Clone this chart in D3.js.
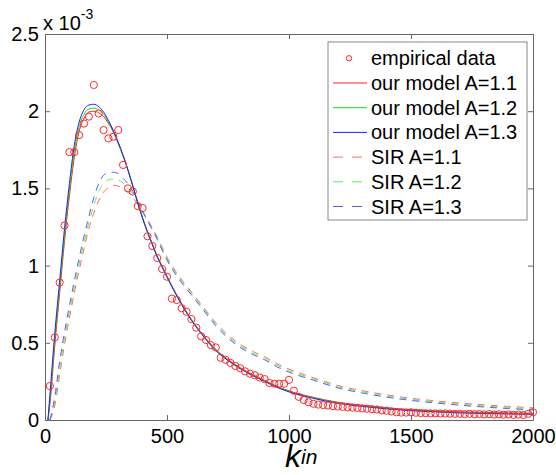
<!DOCTYPE html>
<html>
<head>
<meta charset="utf-8">
<script src="https://cdn.jsdelivr.net/npm/d3@7"></script>
<style>
  html, body { margin: 0; padding: 0; background: #fff; }
  #chart { width: 556px; height: 475px; }
  text { font-family: "Liberation Sans", Arial, Helvetica, sans-serif; fill: #000; }
</style>
</head>
<body>
<div id="chart"></div>
<script>
// values are in units of 10^-3
const empiricalK = [
  20, 40, 60, 80, 100, 120, 140, 160, 180, 200, 220, 240, 260, 280, 300, 320, 340, 360, 380, 400,
  420, 440, 460, 480, 500, 520, 540, 560, 580, 600, 620, 640, 660, 680, 700, 720, 740, 760, 780, 800,
  820, 840, 860, 880, 900, 920, 940, 960, 980, 1000, 1020, 1040, 1060, 1080, 1100, 1120, 1140, 1160, 1180, 1200,
  1220, 1240, 1260, 1280, 1300, 1320, 1340, 1360, 1380, 1400, 1420, 1440, 1460, 1480, 1500, 1520, 1540, 1560, 1580, 1600,
  1620, 1640, 1660, 1680, 1700, 1720, 1740, 1760, 1780, 1800, 1820, 1840, 1860, 1880, 1900, 1920, 1940, 1960, 1980, 2000
];
const empirical = [
  0.22, 0.535, 0.89, 1.26, 1.735, 1.735, 1.845, 1.92, 1.965, 2.17, 1.985, 1.878, 1.824, 1.835, 1.878, 1.652, 1.50, 1.48, 1.386, 1.373,
  1.19, 1.127, 1.049, 0.978, 0.928, 0.786, 0.777, 0.724, 0.701, 0.654, 0.598, 0.542, 0.518, 0.485, 0.470, 0.403, 0.39, 0.37, 0.35, 0.335,
  0.315, 0.30, 0.29, 0.275, 0.265, 0.24, 0.235, 0.235, 0.235, 0.26, 0.19, 0.15, 0.13, 0.115, 0.105, 0.10, 0.097, 0.094, 0.09, 0.087,
  0.085, 0.082, 0.08, 0.078, 0.075, 0.073, 0.07, 0.068, 0.062, 0.06, 0.055, 0.05, 0.048, 0.048, 0.05, 0.047, 0.045, 0.044, 0.043, 0.043,
  0.042, 0.042, 0.041, 0.04, 0.04, 0.038, 0.04, 0.037, 0.039, 0.036, 0.038, 0.035, 0.037, 0.034, 0.036, 0.033, 0.035, 0.032, 0.04, 0.05
];

const modelK = [12, 20, 40, 60, 80, 100, 120, 140, 160, 180, 200, 220, 240, 260, 280, 300, 320, 340, 360, 380, 400,
  420, 440, 460, 480, 500, 550, 600, 650, 700, 750, 800, 850, 900, 950, 1000, 1100, 1200, 1300, 1400, 1500, 1600, 1700, 1800, 1900, 2000];
const modelA11 = [0, 0.10, 0.48, 0.82, 1.16, 1.45, 1.70, 1.87, 1.955, 1.995, 2.0, 1.99, 1.965, 1.92, 1.865, 1.79, 1.71, 1.617, 1.516, 1.41, 1.31,
  1.222, 1.142, 1.062, 0.997, 0.932, 0.782, 0.652, 0.547, 0.457, 0.392, 0.339, 0.295, 0.257, 0.219, 0.189, 0.147, 0.115, 0.095, 0.079, 0.067, 0.059, 0.053, 0.049, 0.046, 0.044];
const modelA12 = [0, 0.13, 0.52, 0.86, 1.20, 1.49, 1.74, 1.90, 1.98, 2.015, 2.02, 2.01, 1.98, 1.93, 1.87, 1.795, 1.712, 1.618, 1.515, 1.407, 1.307,
  1.218, 1.138, 1.058, 0.993, 0.928, 0.778, 0.648, 0.543, 0.453, 0.388, 0.335, 0.291, 0.253, 0.215, 0.185, 0.143, 0.111, 0.091, 0.075, 0.063, 0.055, 0.049, 0.045, 0.042, 0.040];
const modelA13 = [0, 0.16, 0.56, 0.90, 1.24, 1.53, 1.78, 1.93, 2.01, 2.04, 2.045, 2.03, 1.995, 1.94, 1.875, 1.80, 1.715, 1.62, 1.515, 1.405, 1.305,
  1.215, 1.135, 1.055, 0.99, 0.925, 0.775, 0.645, 0.54, 0.45, 0.385, 0.332, 0.288, 0.25, 0.212, 0.182, 0.14, 0.108, 0.088, 0.072, 0.06, 0.052, 0.046, 0.042, 0.039, 0.037];

const sirK = [20, 40, 60, 80, 100, 120, 140, 160, 180, 200, 220, 240, 260, 280, 300, 320, 340, 360, 380, 400,
  420, 440, 460, 480, 500, 550, 600, 650, 700, 750, 800, 850, 900, 950, 1000, 1100, 1200, 1300, 1400, 1500, 1600, 1700, 1800, 1900, 2000];
const sirA11 = [0, 0.09, 0.29, 0.49, 0.66, 0.82, 0.97, 1.11, 1.24, 1.34, 1.42, 1.475, 1.505, 1.52, 1.515, 1.50, 1.475, 1.44, 1.395, 1.35,
  1.30, 1.245, 1.185, 1.12, 1.055, 0.93, 0.83, 0.73, 0.63, 0.55, 0.49, 0.445, 0.41, 0.365, 0.33, 0.274, 0.224, 0.19, 0.163, 0.141, 0.124, 0.11, 0.098, 0.088, 0.079];
const sirA12 = [0, 0.12, 0.33, 0.53, 0.70, 0.86, 1.01, 1.15, 1.28, 1.39, 1.48, 1.53, 1.555, 1.56, 1.555, 1.535, 1.505, 1.465, 1.41, 1.355,
  1.295, 1.24, 1.178, 1.11, 1.045, 0.92, 0.82, 0.72, 0.62, 0.54, 0.48, 0.435, 0.40, 0.355, 0.32, 0.266, 0.216, 0.183, 0.156, 0.134, 0.117, 0.103, 0.091, 0.081, 0.072];
const sirA13 = [0, 0.15, 0.38, 0.57, 0.74, 0.90, 1.05, 1.19, 1.32, 1.44, 1.53, 1.585, 1.60, 1.605, 1.595, 1.565, 1.53, 1.48, 1.415, 1.35,
  1.29, 1.232, 1.17, 1.10, 1.035, 0.91, 0.81, 0.71, 0.61, 0.53, 0.47, 0.425, 0.39, 0.345, 0.31, 0.258, 0.208, 0.175, 0.148, 0.127, 0.11, 0.096, 0.084, 0.074, 0.065];

const xTicks = [0, 500, 1000, 1500, 2000];
const yTicks = [0, 0.5, 1, 1.5, 2, 2.5];

const legendLabels = ['empirical data', 'our model A=1.1', 'our model A=1.2', 'our model A=1.3', 'SIR A=1.1', 'SIR A=1.2', 'SIR A=1.3'];

const chart = {
  width: 556,
  height: 475,
  plot: { left: 45, right: 533, top: 34, bottom: 420 },

  init() {
    this.svg = d3.select('#chart').append('svg')
      .attr('width', this.width)
      .attr('height', this.height);

    this.x = d3.scaleLinear().domain([0, 2000]).range([this.plot.left, this.plot.right]);
    this.y = d3.scaleLinear().domain([0, 2.5]).range([this.plot.bottom, this.plot.top]);

    this.series = [
      { k: modelK, v: modelA11, color: '#ff2020', dash: null },
      { k: modelK, v: modelA12, color: '#10e010', dash: null },
      { k: modelK, v: modelA13, color: '#2020ff', dash: null },
      { k: sirK, v: sirA11, color: '#ff6a6a', dash: '7,6' },
      { k: sirK, v: sirA12, color: '#60ee60', dash: '7,6' },
      { k: sirK, v: sirA13, color: '#5a5aff', dash: '7,6' }
    ];

    this.drawAxes();
    this.drawLines();
    this.drawPoints();
    this.drawLegend();
    this.drawLabels();
  },

  drawAxes() {
    const { left, right, top, bottom } = this.plot;
    const axisColor = '#666';
    const fmt = (d) => String(d);

    const bottomAxis = d3.axisBottom(this.x).tickValues(xTicks)
      .tickSizeInner(-5).tickSizeOuter(0).tickPadding(9).tickFormat(fmt);
    const topAxis = d3.axisTop(this.x).tickValues(xTicks)
      .tickSizeInner(-5).tickSizeOuter(0).tickFormat('');
    const leftAxis = d3.axisLeft(this.y).tickValues(yTicks)
      .tickSizeInner(-5).tickSizeOuter(0).tickPadding(6).tickFormat(fmt);
    const rightAxis = d3.axisRight(this.y).tickValues(yTicks)
      .tickSizeInner(-5).tickSizeOuter(0).tickFormat('');

    const gb = this.svg.append('g').attr('transform', `translate(0,${bottom})`).call(bottomAxis);
    const gt = this.svg.append('g').attr('transform', `translate(0,${top})`).call(topAxis);
    const gl = this.svg.append('g').attr('transform', `translate(${left},0)`).call(leftAxis);
    const gr = this.svg.append('g').attr('transform', `translate(${right},0)`).call(rightAxis);

    for (const g of [gb, gt, gl, gr]) {
      g.select('.domain').attr('stroke', axisColor);
      g.selectAll('.tick line').attr('stroke', axisColor);
      g.selectAll('.tick text')
        .attr('font-size', 20)
        .attr('font-family', '"Liberation Sans", Arial, Helvetica, sans-serif')
        .attr('fill', '#000');
    }

    this.svg.append('defs').append('clipPath').attr('id', 'plot-clip')
      .append('rect')
      .attr('x', left).attr('y', top)
      .attr('width', right - left).attr('height', bottom - top);
  },

  drawLines() {
    const line = d3.line()
      .x((d) => this.x(d[0]))
      .y((d) => this.y(d[1]))
      .curve(d3.curveMonotoneX);

    const g = this.svg.append('g').attr('clip-path', 'url(#plot-clip)');
    // dashed SIR curves underneath, solid model curves on top
    const order = [3, 4, 5, 0, 1, 2];
    for (const i of order) {
      const s = this.series[i];
      g.append('path')
        .attr('d', line(d3.zip(s.k, s.v)))
        .attr('fill', 'none')
        .attr('stroke', s.color)
        .attr('stroke-width', 1)
        .attr('stroke-dasharray', s.dash);
    }
  },

  drawPoints() {
    this.svg.append('g')
      .selectAll('circle')
      .data(d3.zip(empiricalK, empirical))
      .join('circle')
      .attr('cx', (d) => this.x(d[0]))
      .attr('cy', (d) => this.y(d[1]))
      .attr('r', 3.6)
      .attr('fill', 'none')
      .attr('stroke', '#ff2a2a')
      .attr('stroke-width', 1);
  },

  drawLegend() {
    const box = { x: 328, y: 42, w: 199, h: 178 };
    const g = this.svg.append('g');
    g.append('rect')
      .attr('x', box.x).attr('y', box.y)
      .attr('width', box.w).attr('height', box.h)
      .attr('fill', '#fff')
      .attr('stroke', '#888');

    const rowY = (i) => 58.3 + i * 24.7;

    g.append('circle')
      .attr('cx', 349).attr('cy', rowY(0))
      .attr('r', 2.7)
      .attr('fill', 'none')
      .attr('stroke', '#ff2a2a');

    this.series.forEach((s, i) => {
      g.append('line')
        .attr('x1', 333).attr('x2', 367)
        .attr('y1', rowY(i + 1)).attr('y2', rowY(i + 1))
        .attr('stroke', s.color)
        .attr('stroke-width', 1)
        .attr('stroke-dasharray', s.dash ? '10,9' : null);
    });

    g.selectAll('text')
      .data(legendLabels)
      .join('text')
      .attr('x', 371)
      .attr('y', (d, i) => rowY(i))
      .attr('dy', '0.35em')
      .attr('font-size', 20)
      .text((d) => d);
  },

  drawLabels() {
    const exp = this.svg.append('text')
      .attr('x', 43).attr('y', 30)
      .attr('font-size', 20);
    exp.append('tspan').text('x 10');
    exp.append('tspan').attr('font-size', 14).attr('dy', -11).text('-3');

    const xl = this.svg.append('text')
      .attr('x', 285).attr('y', 467)
      .attr('font-family', '"Liberation Serif", "DejaVu Serif", serif')
      .attr('font-style', 'italic')
      .attr('font-size', 32);
    xl.append('tspan').text('k');
    xl.append('tspan').attr('font-size', 21).attr('dy', -3).text('in');
  }
};

chart.init();
</script>
</body>
</html>
